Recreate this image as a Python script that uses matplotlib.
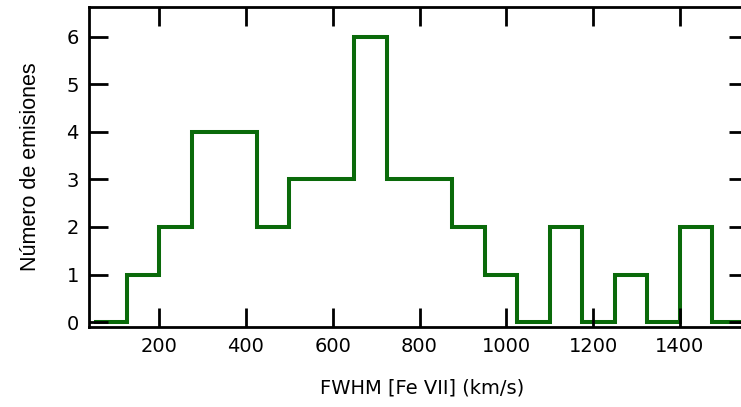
import matplotlib
matplotlib.use("Agg")
import matplotlib.pyplot as plt

# FWHM histogram of [Fe VII] emission lines
bin_edges = [50, 125, 200, 275, 350, 425, 500, 575, 650, 725, 800,
             875, 950, 1025, 1100, 1175, 1250, 1325, 1400, 1475, 1550]
counts = [0, 1, 2, 4, 4, 2, 3, 3, 6, 3, 3, 2, 1, 0, 2, 0, 1, 0, 2, 0]
x_ticks = [200, 400, 600, 800, 1000, 1200, 1400]
y_ticks = [0, 1, 2, 3, 4, 5, 6]

W, H = 741, 407
fig = plt.figure(figsize=(W / 100, H / 100), dpi=100)
ax_w = 748 - 88.5
ax = fig.add_axes([88.5 / W, (H - 327) / H, ax_w / W, (327 - 7) / H])

ax.stairs(counts, bin_edges, color="#0a6a0a", linewidth=2.9,
          baseline=0, joinstyle="miter")

ax.set_xlim(37, 1557)
ax.set_ylim(-0.1, 6.62)
ax.set_xticks(x_ticks)
ax.set_yticks(y_ticks)

for s in ax.spines.values():
    s.set_linewidth(2)
ax.tick_params(direction="in", length=14, width=2, top=True, right=True,
               labelsize=14, pad=7)

ax.set_xlabel("FWHM [Fe VII] (km/s)", fontsize=14, family="DejaVu Sans")
ax.xaxis.set_label_coords((422 - 88.5) / ax_w, -61 / 320)
ax.set_ylabel("Número de emisiones", fontsize=15.5, family="Liberation Sans")
ax.yaxis.set_label_coords(-58 / ax_w, 0.5)
ax.xaxis.label.set_va("center")
ax.yaxis.label.set_va("center")

fig.savefig("out.png", dpi=100)
